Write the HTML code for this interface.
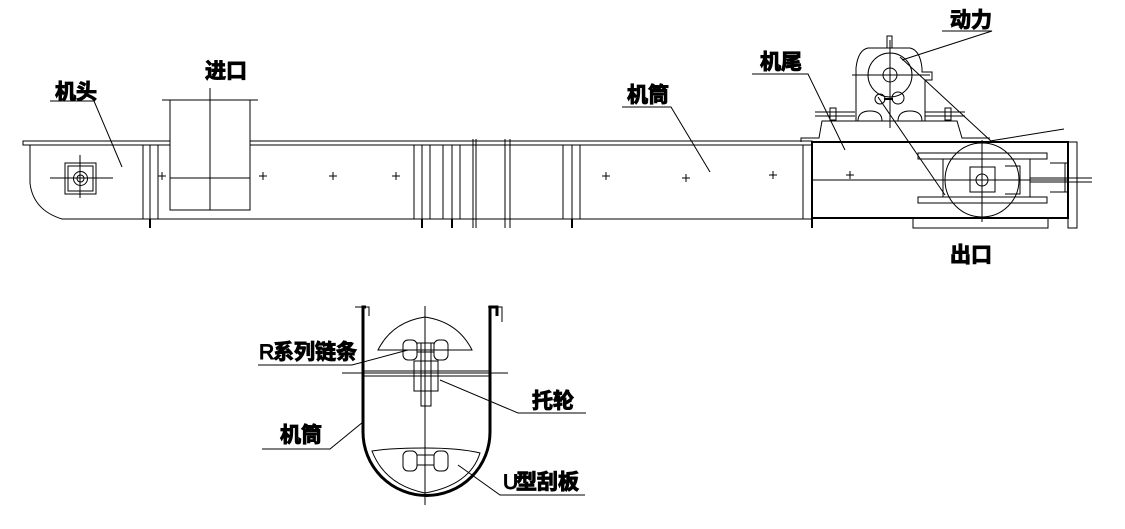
<!DOCTYPE html>
<html><head><meta charset="utf-8"><style>
html,body{margin:0;padding:0;background:#fff;}
svg{display:block;}
text{font-family:"Liberation Sans","Noto Sans CJK SC",sans-serif;font-size:21px;fill:#000;font-weight:bold;}
</style></head><body>
<svg width="1125" height="529" viewBox="0 0 1125 529" xmlns="http://www.w3.org/2000/svg" fill="none" stroke="#000" stroke-width="1">
<rect x="23" y="141" width="789" height="4"/>
<path d="M30 145 V183 Q33 210 62 219 H143"/>
<rect x="65" y="163" width="31" height="31"/>
<rect x="68" y="166" width="25" height="25"/>
<circle cx="80.5" cy="178.5" r="7"/><circle cx="80.5" cy="178.5" r="3.5"/>
<line x1="50" y1="178" x2="113" y2="178"/><line x1="80" y1="155" x2="80" y2="198"/>
<line x1="143" y1="219" x2="812" y2="219"/>
<g>
<rect x="143" y="145" width="15" height="74"/><line x1="150" y1="145" x2="150" y2="219"/><line x1="150" y1="219" x2="150" y2="228" stroke-width="2"/>
<rect x="414" y="145" width="16" height="74"/><line x1="422" y1="145" x2="422" y2="219"/><line x1="422" y1="219" x2="422" y2="228" stroke-width="2"/>
<rect x="443" y="145" width="17" height="74"/><line x1="452" y1="145" x2="452" y2="219"/><line x1="452" y1="219" x2="452" y2="228" stroke-width="2"/>
<line x1="505" y1="139" x2="505" y2="228"/><line x1="510" y1="139" x2="510" y2="228"/>
<line x1="473" y1="139" x2="473" y2="228"/><line x1="476" y1="139" x2="476" y2="228"/>
<rect x="563" y="145" width="17" height="74"/><line x1="572" y1="145" x2="572" y2="219"/><line x1="572" y1="219" x2="572" y2="228" stroke-width="2"/>
<rect x="803" y="145" width="9" height="74"/>
</g>
<line x1="162" y1="100" x2="258" y2="100"/>
<rect x="170" y="100" width="80" height="110" fill="#fff"/>
<line x1="170" y1="178" x2="250" y2="178"/>
<line x1="210" y1="88" x2="210" y2="210"/>
<g>
<path d="M158 176h8M162 172v8"/><path d="M259 176h8M263 172v8"/><path d="M329 176h8M333 172v8"/><path d="M392 176h8M396 172v8"/>
<path d="M602 176h8M606 172v8"/><path d="M682 178h8M686 174v8"/><path d="M769 175h8M773 171v8"/><path d="M846 175h8M850 171v8"/>
</g>
<rect x="812" y="142" width="256" height="76" stroke-width="2"/>
<line x1="812" y1="218" x2="812" y2="228" stroke-width="2"/>
<line x1="812" y1="180" x2="1068" y2="180"/>
<rect x="1068" y="142" width="9" height="86"/>
<path d="M913 218V228H1048V218"/>
<path d="M801 142V138H819L822 121H957L962 138H990"/>
<path d="M815 112h40M815 116h40M925 112h40M925 116h40"/>
<rect x="830" y="108" width="6" height="12"/><rect x="945" y="108" width="6" height="12"/>
<path d="M856 121V68Q858 50 868 48H910Q920 50 922 68V72H932V80H925V121"/>
<path d="M858 121q0-10 12-10q12 0 12 10M898 121q0-10 12-10q12 0 12 10"/>
<rect x="887" y="36" width="5" height="12"/>
<circle cx="890" cy="75" r="22"/><circle cx="890" cy="75" r="7"/>
<circle cx="880" cy="99" r="5"/><circle cx="898" cy="98" r="6"/>
<line x1="852" y1="75" x2="930" y2="75"/><line x1="890" y1="40" x2="890" y2="128"/>
<line x1="884" y1="99" x2="893" y2="99" stroke-width="2"/>
<line x1="900" y1="57" x2="992" y2="142"/>
<line x1="878" y1="97" x2="945" y2="195"/>
<line x1="990" y1="141" x2="1064" y2="129"/>
<circle cx="982" cy="180" r="37"/>
<rect x="918" y="153" width="129" height="6"/><rect x="918" y="197" width="129" height="6"/>
<rect x="943" y="159" width="87" height="38"/>
<rect x="970" y="167" width="25" height="25"/><circle cx="982" cy="180" r="6"/>
<path d="M1005 166h15v28h-15M1050 163h18M1050 192h18M1065 163v29"/>
<path d="M1030 178h62M1030 182h62"/>
<line x1="982" y1="140" x2="982" y2="222"/>
<text x="55" y="99">机头</text><path d="M50 101H94L122 167"/>
<text x="205" y="78">进口</text>
<text x="627" y="102">机筒</text><path d="M622 107H671L710 172"/>
<text x="760" y="69">机尾</text><path d="M752 74H808L845 150"/>
<text x="950" y="27">动力</text><path d="M942 31H992L902 60"/>
<text x="950" y="262">出口</text>
<path d="M366 307H363V432A62 62 0 0 0 490 432V307H497V316" stroke-width="3"/>
<path d="M355 307H369V316" /><path d="M488 307H502V322"/>
<line x1="425" y1="306" x2="425" y2="505"/>
<line x1="342" y1="373" x2="508" y2="373"/>
<path d="M363 371H490M363 376H490"/>
<rect x="414" y="361" width="24" height="30"/>
<rect x="421" y="343" width="10" height="63"/>
<path d="M378 350Q392 322 425 317Q458 322 472 350H378Z"/>
<path d="M372 451Q390 448 425 448Q460 448 480 453Q470 485 425 493Q385 485 372 451Z"/>
<rect x="403" y="340" width="14" height="20" rx="5"/><rect x="434" y="340" width="14" height="20" rx="5"/>
<rect x="403" y="451" width="14" height="20" rx="5"/><rect x="434" y="451" width="14" height="20" rx="5"/>
<rect x="417" y="343" width="17" height="9"/><rect x="417" y="455" width="17" height="10"/>
<text x="259" y="359" style="font-weight:normal">R</text><text x="273" y="359">系列链条</text>
<path d="M258 365H352L408 350"/>
<text x="532" y="408">托轮</text><path d="M586 413H518L440 380"/>
<text x="280" y="442">机筒</text><path d="M262 449H330L363 422"/>
<text x="503" y="489" style="font-weight:normal">U</text><text x="516" y="489">型刮板</text>
<path d="M585 495H500L458 465"/>
</svg>
</body></html>
